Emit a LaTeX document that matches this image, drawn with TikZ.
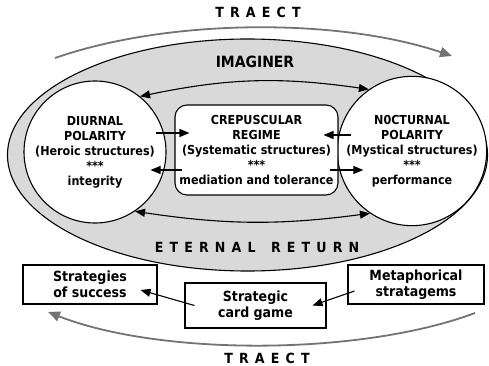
\documentclass[tikz,border=0pt]{standalone}
\usepackage{fontspec}
\setmainfont{DejaVu Sans Condensed}
\usetikzlibrary{arrows.meta}

\begin{document}
\begin{tikzpicture}[x=1pt, y=-1pt, line width=1.1pt,
        tip/.style={-{Triangle[length=10pt,width=8pt]}},
        twotip/.style={{Triangle[length=10pt,width=8pt]}-{Triangle[length=10pt,width=8pt]}},
        traectarc/.style={black!55, line width=1.8pt, -{Triangle[length=12pt,width=10pt]}},
        pole/.style={circle, draw, fill=white, minimum size=142pt, inner sep=0pt, align=center,
            font=\bfseries\fontsize{12.4}{15}\selectfont},
        regime/.style={draw, fill=white, rounded corners=12pt, minimum width=163pt, minimum height=90pt,
            inner sep=0pt, align=center, font=\bfseries\fontsize{12.4}{15}\selectfont},
        card/.style={draw, fill=white, inner sep=0pt, align=center, font=\bfseries\fontsize{14}{16.5}\selectfont},
        spaced/.style={font=\bfseries\fontsize{14}{14}\selectfont\addfontfeature{LetterSpace=44}}
    ]
        \useasboundingbox (0,0) rectangle (489,366);

        % imaginer field
        \draw[fill=black!15] (247.5,155) ellipse [x radius=240, y radius=116];
        \node[font=\bfseries\fontsize{15.5}{15.5}\selectfont] (imag) at (255,62) {IMAGINER};
        \node[spaced] (eternal) at (257,247) {ETERNAL\hspace{5pt} RETURN};

        % polarities and regime
        \node[pole] (diurnal) at (95,152) {DIURNAL\\POLARITY\\(Heroic structures)\\***\\integrity};
        \node[pole] (nocturnal) at (412,151) {N0CTURNAL\\POLARITY\\(Mystical structures)\\***\\performance};
        \node[regime] (crep) at (256.5,150) {CREPUSCULAR\\REGIME\\(Systematic structures)\\***\\mediation and tolerance};

        \draw[twotip] (diurnal.51) to[bend left=10] (nocturnal.125);
        \draw[twotip] (diurnal.-56) to[bend right=8] (nocturnal.236);

        \draw[tip] ([shift={(-11,-19)}]diurnal.east) -- ([shift={(15,-17)}]crep.west);
        \draw[tip] ([shift={(8,20)}]crep.west) -- ([shift={(-16,18)}]diurnal.east);
        \draw[tip] ([shift={(14.5,-16)}]nocturnal.west) -- ([shift={(-15,-15)}]crep.east);
        \draw[tip] ([shift={(-9,20)}]crep.east) -- ([shift={(26.5,19)}]nocturnal.west);

        % strategies
        \node[card, minimum width=134pt, minimum height=39pt] (success) at (90,284.5) {Strategies\\of success};
        \node[card, minimum width=141pt, minimum height=45pt] (game) at (255.5,305.5) {Strategic\\card game};
        \node[card, minimum width=136pt, minimum height=39pt] (stratagems) at (416,284.5) {Metaphorical\\stratagems};

        \draw[tip] ([xshift=10pt]game.west) -- ([shift={(-17,5.5)}]success.east);
        \draw[tip] ([shift={(7,6.5)}]stratagems.west) -- ([xshift=-14pt]game.east);

        % traect
        \coordinate (up1) at (55,58);
        \coordinate (up2) at (452,56);
        \coordinate (lo1) at (475,313);
        \coordinate (lo2) at (48,312);
        \draw[traectarc] (up1) .. controls (170,18) and (340,18) .. (up2);
        \draw[traectarc] (lo1) .. controls (360,356) and (160,356) .. (lo2);
        \node[spaced] (traect) at (258,12.5) {TRAECT};
        \node[spaced] (traect2) at (267,358) {TRAECT};
    \end{tikzpicture}
\end{document}
